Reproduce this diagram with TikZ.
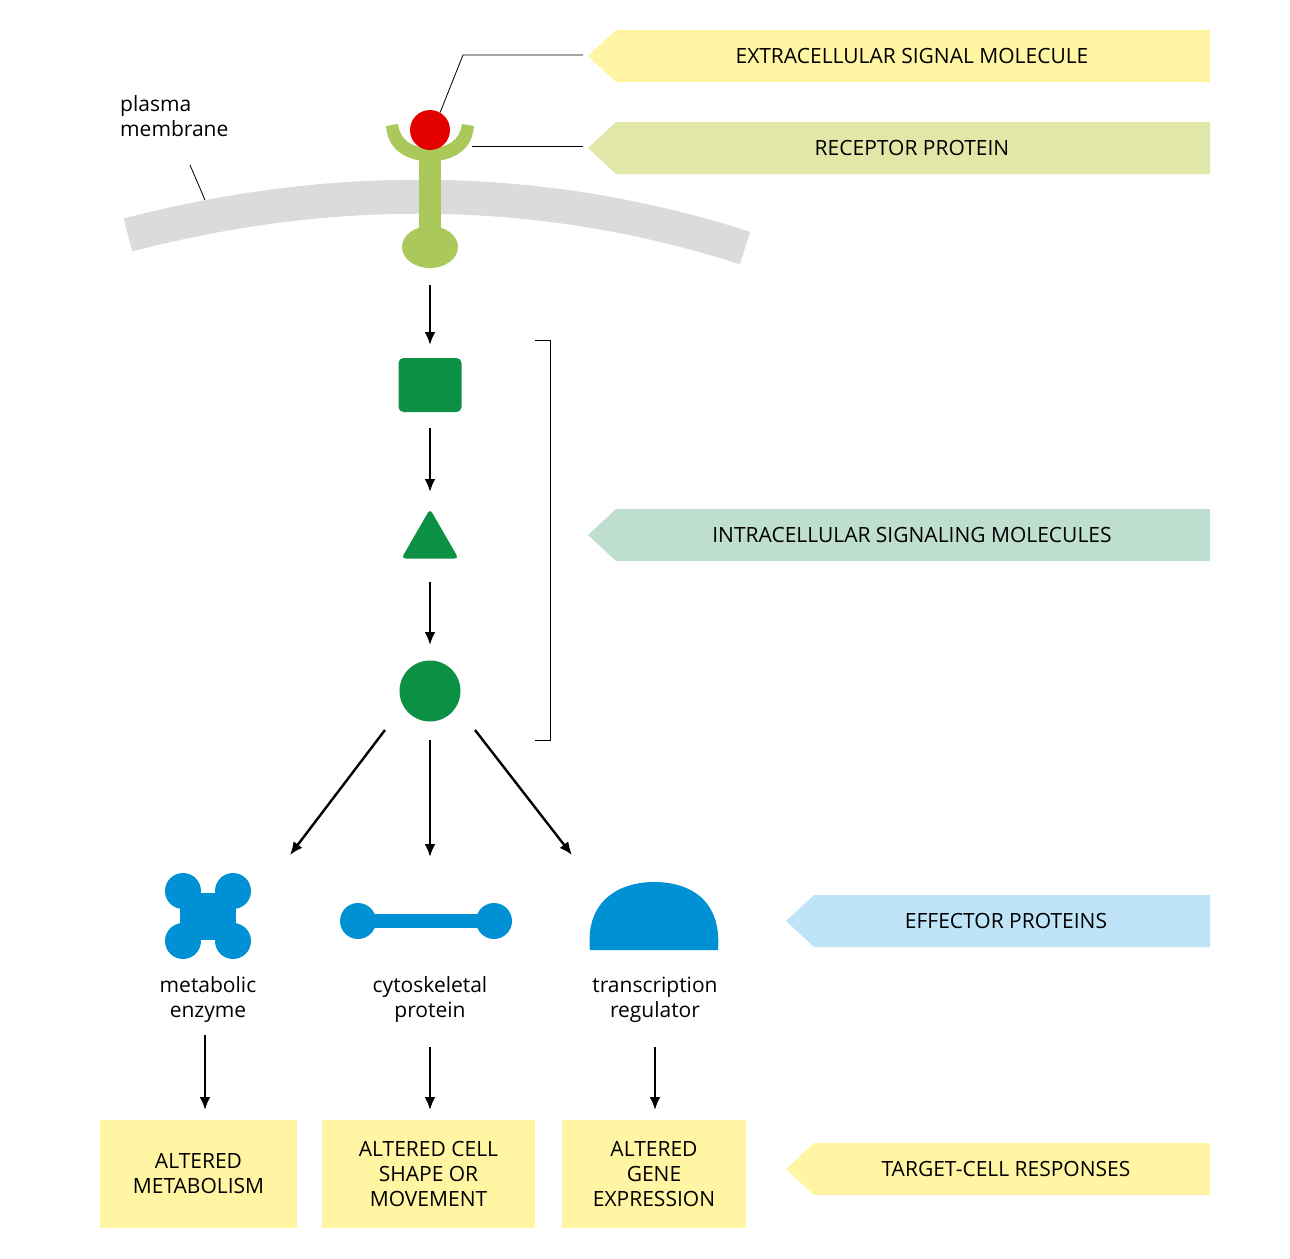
\documentclass[tikz,border=0pt]{standalone}
\usepackage{fontspec}
\setmainfont{Open Sans}
\usetikzlibrary{arrows.meta,shapes.geometric}
\definecolor{memb}{HTML}{D9DCDA}
\definecolor{rec}{HTML}{ABC95A}
\definecolor{dg}{HTML}{0C9144}
\definecolor{eb}{HTML}{0091D4}
\definecolor{yel}{HTML}{FFF5A3}
\definecolor{lime}{HTML}{E1E8A7}
\definecolor{mint}{HTML}{BEDFCF}
\definecolor{sky}{HTML}{BFE4F7}
\begin{document}
\begin{tikzpicture}[x=1pt,y=-1pt,
  txt/.style={font=\fontsize{21}{25}\selectfont,align=center,inner sep=0},
  arr/.style={line width=2.4pt,-{Latex[length=13pt,width=11pt]}},
  banner/.style={font=\fontsize{21}{25}\selectfont,inner sep=0}]
\useasboundingbox (0,0) rectangle (1290,1258);
% membrane
\draw[memb,line width=34pt] (128,235) .. controls (330,182) and (540,182) .. (745,248);
% banners
\newcommand\bann[5]{\fill[#1] (#2,#3) -- (#2+28,#3-26) -- (1210,#3-26) -- (1210,#3+26) -- (#2+28,#3+26) -- cycle;}
\bann{yel}{588}{56}{}{}
\bann{lime}{588}{148}{}{}
\bann{mint}{588}{535}{}{}
\bann{sky}{786}{921}{}{}
\bann{yel}{786}{1169}{}{}
\node[banner] (b1) at (912,56) {EXTRACELLULAR SIGNAL MOLECULE};
\node[banner] (b2) at (912,148) {RECEPTOR PROTEIN};
\node[banner] (b3) at (912,535) {INTRACELLULAR SIGNALING MOLECULES};
\node[banner] (b4) at (1006,921) {EFFECTOR PROTEINS};
\node[banner] (b5) at (1006,1169) {TARGET-CELL RESPONSES};
% receptor
\fill[rec] (419,150) rectangle (441,240);
\fill[rec] (430,247) ellipse (28 and 21);
\fill[rec] (386,126) .. controls (388,150) and (405,160) .. (430,162) .. controls (455,160) and (472,150) .. (474,126)
  -- (462,124) .. controls (460,140) and (448,148) .. (430,148) .. controls (412,148) and (400,140) .. (398,124) -- cycle;
\node[circle,fill=red!90!black,minimum size=40pt,inner sep=0] (sig) at (430,130) {};
\coordinate (rc) at (472,146);
\coordinate (l1) at (583,55);
\coordinate (l1b) at (463,55);
\coordinate (l2) at (583,146);
\draw[line width=0.8pt] (l1) -- (l1b) -- (sig.60);
\draw[line width=0.8pt] (l2) -- (rc);
% plasma membrane label
\node[txt,align=left,anchor=north west] (pm) at (120,95) {plasma\\membrane};
\coordinate (pmt) at (205,200);
\draw[line width=0.8pt] (190,165) -- (pmt);
% cascade
\coordinate (r0) at (430,285);
\node[fill=dg,rounded corners=5pt,minimum width=63pt,minimum height=54pt,inner sep=0] (sq) at (430,385) {};
\node[fill=dg,regular polygon,regular polygon sides=3,minimum size=66pt,inner sep=0,rounded corners=4pt] (tri) at (430,542) {};
\node[circle,fill=dg,minimum size=61pt,inner sep=0] (ci) at (430,691) {};
\coordinate (s1) at (430,345);
\draw[arr] (r0) -- (s1);
\draw[arr] (430,428) -- (430,492);
\draw[arr] (430,582) -- (430,645);
\draw[arr] (385,730) -- (290,855);
\draw[arr] (430,740) -- (430,857);
\draw[arr] (475,730) -- (572,855);
\draw[line width=0.8pt] (535,340) -- (550,340) -- (550,740) -- (535,740);
% effectors
\fill[eb] (190,897) rectangle (226,935);
\foreach \dx/\dy in {-1/-1,1/-1,-1/1,1/1}
  \fill[eb] (208+\dx*25,916+\dy*25) circle (18);
\fill[eb] (180,900) rectangle (236,932);
\fill[eb] (200,893) rectangle (216,940);
\fill[eb] (358,914) rectangle (494,928);
\fill[eb] (358,921) circle (18);
\fill[eb] (494,921) circle (18);
\fill[eb] (590,950) .. controls (585,900) and (620,882) .. (654,882) .. controls (690,882) and (722,900) .. (718,950) -- cycle;
\node[txt] (e1) at (208,1000) {metabolic\\enzyme};
\node[txt] (e2) at (430,1000) {cytoskeletal\\protein};
\node[txt] (e3) at (655,1000) {transcription\\regulator};
% responses
\node[fill=yel,minimum width=197pt,minimum height=108pt,txt] (t1) at (198.5,1174) {ALTERED\\METABOLISM};
\node[fill=yel,minimum width=213pt,minimum height=108pt,txt] (t2) at (428.5,1174) {ALTERED CELL\\SHAPE OR\\MOVEMENT};
\node[fill=yel,minimum width=184pt,minimum height=108pt,txt] (t3) at (654,1174) {ALTERED\\GENE\\EXPRESSION};
\draw[arr] (e1.south -| 205,0) ++(0,12) -- (205,1110);
\draw[arr] (430,1047) -- (430,1110);
\draw[arr] (655,1047) -- (655,1110);
\end{tikzpicture}
\end{document}
